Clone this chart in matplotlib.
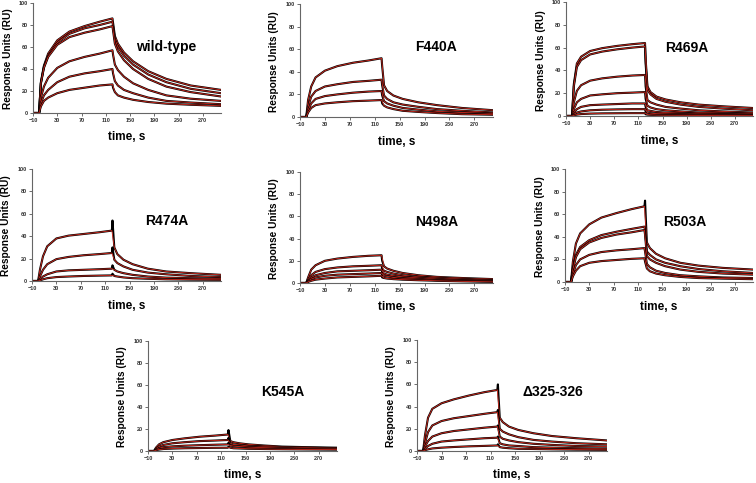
import matplotlib
matplotlib.use('Agg')
import matplotlib.pyplot as plt
import numpy as np

plt.rcParams['font.family'] = ['Liberation Sans', 'DejaVu Sans']

# sampling times (s): baseline, association phase, dissociation phase
time_baseline = [-10]
time_assoc = [0, 3, 8, 15, 30, 50, 75, 100, 121]
time_dissoc = [122, 125, 130, 140, 155, 180, 210, 250, 300]
baseline_ru = 0.0

# Response (RU), one list per concentration
wt_assoc = [
    [0, 28, 43, 54, 66, 74, 79, 83, 86],
    [0, 27, 42, 52, 64, 72, 77, 80, 83],
    [0, 27, 41, 51, 62, 69, 73, 76, 79],
    [0, 14, 24, 32, 41, 47, 51, 54, 57],
    [0, 9, 16, 21, 28, 33, 36, 38, 40],
    [0, 6, 11, 14, 18, 21, 23, 25, 26],
]
wt_dissoc = [
    [82, 70, 63, 55, 47, 38, 31, 25, 21],
    [79, 67, 60, 52, 44, 35, 28, 22, 18],
    [75, 63, 56, 48, 40, 31, 24, 19, 15],
    [53, 44, 39, 33, 27, 21, 16, 13, 11],
    [36, 29, 25, 21, 18, 14, 11, 9.5, 8],
    [23, 19, 16, 14, 12, 10, 8.5, 7.5, 6.5],
]

f440a_assoc = [
    [0, 15, 27, 35, 41, 45, 48, 50, 52],
    [0, 9, 18, 23, 27, 29, 31, 32, 33],
    [0, 6, 12, 16, 18.5, 20, 21.5, 22.5, 23],
    [0, 4, 8, 10.5, 12, 13, 14, 14.5, 15],
]
f440a_dissoc = [
    [45, 28, 23, 19, 16, 13, 10.5, 8, 6],
    [28, 19, 16, 13, 11, 9, 7, 5.5, 4],
    [19, 14, 12, 10, 8, 6.5, 5, 4, 3],
    [12, 10, 8.5, 7, 5.5, 4.5, 3.5, 2.5, 2],
]

r469a_assoc = [
    [0, 28, 46, 52, 57, 59.5, 61.5, 63, 64],
    [0, 26, 43, 49, 54, 56.5, 58.5, 60, 61],
    [0, 12, 22, 27, 31, 33, 34.5, 35.5, 36],
    [0, 6, 12, 15, 18, 19, 20, 20.5, 21],
    [0, 3, 6, 8, 9.5, 10, 10.5, 11, 11],
    [0, 1.5, 3, 4, 5, 5.5, 5.8, 6, 6],
    [0, 0.6, 1.2, 1.7, 2.1, 2.3, 2.4, 2.5, 2.5],
]
r469a_dissoc = [
    [50, 26, 21, 17, 14.5, 12, 10, 8.5, 7],
    [46, 23, 19, 15, 12.5, 10, 8, 6.5, 5],
    [26, 14, 12, 10, 8, 6.5, 5, 4, 3],
    [15, 9, 7.5, 6, 5, 4, 3, 2.5, 2],
    [8, 5, 4.5, 3.5, 3, 2.5, 2, 1.5, 1.2],
    [4, 3, 2.5, 2, 1.8, 1.5, 1.2, 1, 0.8],
    [1.5, 1.2, 1, 0.8, 0.7, 0.6, 0.5, 0.4, 0.3],
]

r474a_assoc = [
    [0, 10, 22, 31, 38, 40.5, 42, 43.5, 45],
    [0, 4, 10, 15, 19.5, 21.5, 23, 24, 25],
    [0, 1.5, 4, 6, 8.5, 9.5, 10, 10.5, 11],
    [0, 0.5, 1.5, 2.5, 3.5, 4, 4.5, 4.8, 5],
]
r474a_dissoc = [
    [54, 30, 24, 19, 15, 11, 8.5, 7, 5.5],
    [30, 19, 16, 13, 10, 7.5, 6, 4.5, 3.5],
    [14, 10, 8.5, 7, 5.5, 4, 3, 2.5, 2],
    [6.5, 4.5, 4, 3.2, 2.5, 2, 1.5, 1.2, 1],
]

n498a_assoc = [
    [0, 5, 12, 16, 20, 22, 23.5, 24.5, 25],
    [0, 3, 7, 10, 12.5, 14, 15, 15.5, 16],
    [0, 2, 5, 7, 9, 10.5, 11, 11.5, 12],
    [0, 1.5, 3.5, 5, 6.5, 7.5, 8, 8.5, 9],
    [0, 1, 2, 3, 4, 5, 5.5, 6, 6.5],
]
n498a_dissoc = [
    [20, 15, 13, 11, 9, 7, 5.5, 4.5, 3.5],
    [13, 11, 10, 8.5, 7, 5.5, 4.5, 3.5, 2.5],
    [10, 8.5, 7.5, 6.5, 5.5, 4.5, 3.5, 2.5, 2],
    [7.5, 6.5, 6, 5, 4, 3.5, 2.5, 2, 1.5],
    [5, 4.5, 4, 3.5, 3, 2.5, 2, 1.5, 1],
]

r503a_assoc = [
    [0, 18, 34, 43, 51, 57, 61, 64.5, 67],
    [0, 12, 24, 31, 37, 41.5, 44.5, 47, 49],
    [0, 11, 22, 29, 35, 39, 42, 44, 46],
    [0, 7, 15, 20, 24, 26.5, 28, 29, 30],
    [0, 5, 10, 14, 17, 18.5, 19.5, 20.5, 21],
]
r503a_dissoc = [
    [72, 35, 30, 25, 21, 17, 14.5, 12.5, 11],
    [46, 27, 24, 20, 17, 14, 11.5, 9.5, 8],
    [42, 23, 20, 17, 14, 11, 9, 7.5, 6.5],
    [27, 16, 13, 10, 8, 6, 5, 4, 3.5],
    [18, 12, 9.5, 7.5, 6, 4.5, 3.5, 3, 2.5],
]

k545a_assoc = [
    [0, 3, 6, 8, 10, 11.5, 13, 14, 15],
    [0, 2, 4, 5.5, 7, 8, 9, 9.5, 10],
    [0, 1.2, 2.5, 3.5, 4.2, 4.8, 5.3, 5.7, 6],
    [0, 0.7, 1.3, 1.8, 2.2, 2.5, 2.7, 2.9, 3],
]
k545a_dissoc = [
    [19, 9, 8, 7, 6, 5, 4, 3.5, 3],
    [12, 7, 6, 5.5, 4.5, 4, 3.5, 3, 2.5],
    [7.5, 5, 4.5, 4, 3.5, 3, 2.5, 2, 2],
    [4, 3, 2.5, 2.3, 2, 1.8, 1.6, 1.4, 1.2],
]

d325_assoc = [
    [0, 14, 30, 38, 43, 46.5, 50, 53, 55],
    [0, 7, 17, 23, 27, 29.5, 31.5, 33.5, 35],
    [0, 4, 9, 13, 16, 18, 19.5, 21, 22],
    [0, 2, 4.5, 6.5, 8.5, 9.5, 10.5, 11.5, 12],
    [0, 0.7, 1.5, 2.3, 3, 3.6, 4.2, 4.6, 5],
]
d325_dissoc = [
    [60, 30, 26, 22, 19, 16, 13.5, 11.5, 9.5],
    [37, 20, 17.5, 15, 12.5, 10, 8.5, 7, 6],
    [23, 13, 11, 9.5, 8, 6.5, 5.5, 4.5, 4],
    [13, 7, 6, 5, 4.5, 3.5, 3, 2.5, 2],
    [6, 3.5, 3, 2.5, 2, 1.8, 1.5, 1.2, 1],
]

panel_names = ['wild-type', 'F440A', 'R469A', 'R474A', 'N498A', 'R503A',
               'K545A', '\u0394325-326']
panel_assoc = [wt_assoc, f440a_assoc, r469a_assoc, r474a_assoc, n498a_assoc,
               r503a_assoc, k545a_assoc, d325_assoc]
panel_dissoc = [wt_dissoc, f440a_dissoc, r469a_dissoc, r474a_dissoc,
                n498a_dissoc, r503a_dissoc, k545a_dissoc, d325_dissoc]
name_pos = [(210, 60), (208, 62), (191, 60), (211, 54), (210, 55), (188, 53),
            (211, 54), (212, 53)]

# axes boxes in pixels: left, right, top (y=100), bottom (y=0)
W, H = 756, 483
boxes = [
    (33, 221, 3, 113), (300, 493, 4, 117), (566, 753, 2, 116),
    (32, 221, 169, 281), (300, 493, 172, 283), (565, 753, 169, 282),
    (148, 337, 341, 451), (417, 607, 340, 451),
]

fig = plt.figure(figsize=(W / 100, H / 100), dpi=100)

t_full = np.array(time_baseline + time_assoc + time_dissoc, dtype=float)
fit_mask = t_full != 122  # injection spike only in the raw trace

for name, assoc, dissoc, pos, (l, r, t, b) in zip(
        panel_names, panel_assoc, panel_dissoc, name_pos, boxes):
    ax = fig.add_axes([l / W, 1 - b / H, (r - l) / W, (b - t) / H])
    for a, d in zip(assoc, dissoc):
        y = np.array([baseline_ru] + a + d, dtype=float)
        ax.plot(t_full, y, color='black', lw=1.5, solid_joinstyle='round')
        ax.plot(t_full[fit_mask], y[fit_mask], color='#d42a1e', lw=0.6)
    ax.set_xlim(-10, 300)
    ax.set_ylim(0, 100)
    ax.set_xticks(range(-10, 300, 40))
    ax.set_yticks(range(0, 101, 20))
    ax.tick_params(labelsize=4, length=2, width=0.5, pad=1.5, colors='#333333')
    for lab in ax.get_xticklabels() + ax.get_yticklabels():
        lab.set_fontweight('bold')
    for s in ['top', 'right']:
        ax.spines[s].set_visible(False)
    for s in ['left', 'bottom']:
        ax.spines[s].set_color('#666666')
        ax.spines[s].set_linewidth(0.8)
    ax.text(pos[0], pos[1], name, fontsize=10, fontweight='bold',
            ha='center', va='center')
    ax.text(0.5, -0.22, 'time, s', transform=ax.transAxes, fontsize=8.5,
            fontweight='bold', ha='center', va='center')
    ax.text(-0.135, 0.49, 'Response Units (RU)', transform=ax.transAxes,
            fontsize=7.3, fontweight='bold', rotation=90,
            ha='center', va='center')

fig.savefig('out.png', dpi=100)
